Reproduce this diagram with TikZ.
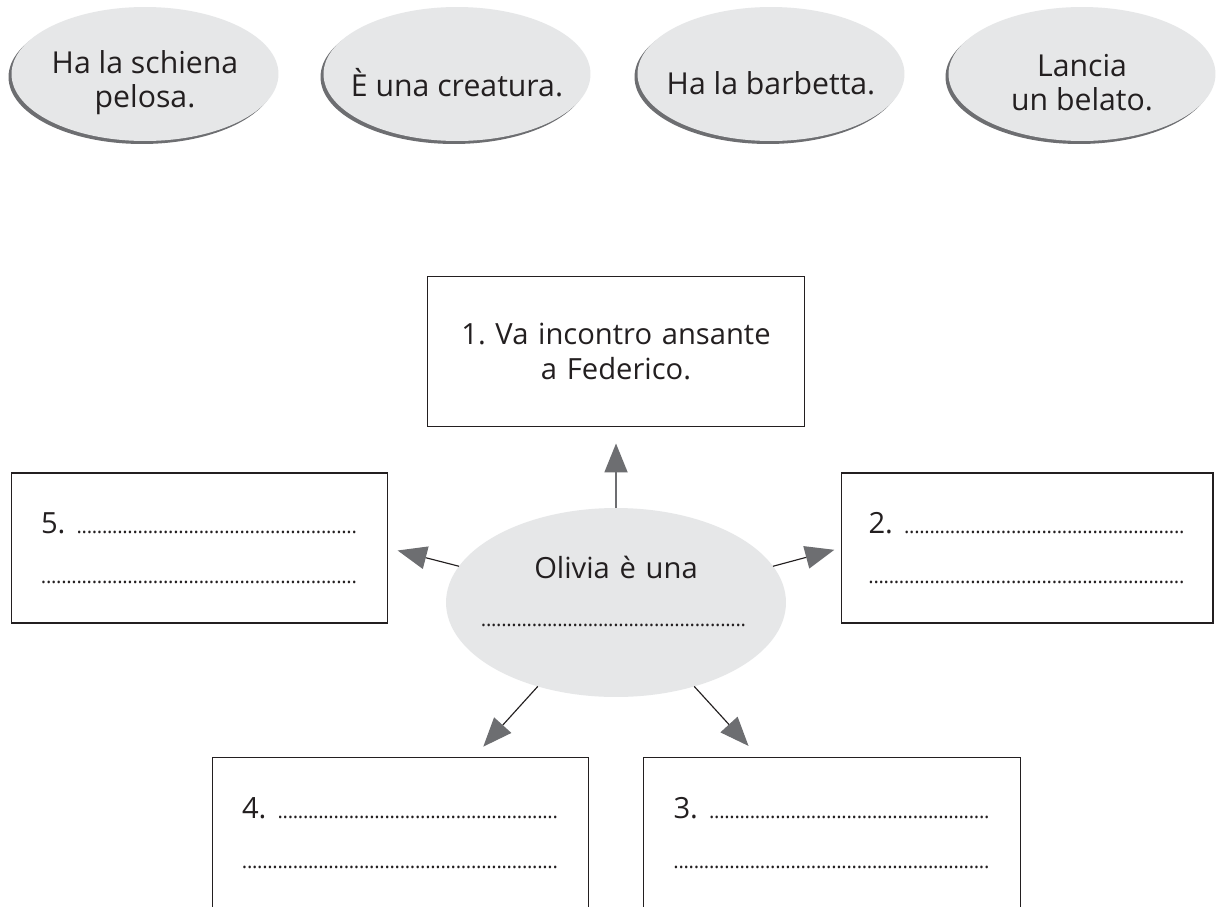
\documentclass[tikz,border=0pt]{standalone}
\usepackage{fontspec}
\setmainfont{Open Sans}
\frenchspacing
\usetikzlibrary{shapes.geometric,arrows.meta,shadows}
\definecolor{coloresfondo}{HTML}{E6E7E8}
\definecolor{coloreombra}{HTML}{6D6E71}
\definecolor{colorefreccia}{HTML}{6D6E71}
\definecolor{coloretesto}{HTML}{231F20}
\definecolor{colorebordo}{HTML}{231F20}
\newcommand{\riga}{\leavevmode\leaders\hbox to 2.9pt{\hss\fontsize{11.5}{11.5}\selectfont.\hss}\hfill\null}
\newcommand{\bolla}[3]{\node[nuvola](#1) at (#2) {}; \node[testonuvola](#1tx) at ([yshift=-0.18cm]#1.center) {#3};}
\newcommand{\freccia}[3]{\draw[freccia, shorten >=#3] (#1) -- (#2);}
\tikzset{
		basico/.style={text=coloretesto, inner sep=0pt, outer sep=0pt},
		nuvola/.style={basico, ellipse, fill=coloresfondo, minimum width=5.34cm, minimum height=2.68cm, drop shadow={shadow xshift=-0.06cm, shadow yshift=-0.06cm, opacity=1, fill=coloreombra}},
		testonuvola/.style={basico, align=center, font=\fontsize{17.2}{19.3}\selectfont},
		centro/.style={basico, ellipse, fill=coloresfondo, minimum width=6.8cm, minimum height=3.78cm},
		testocentro/.style={basico, align=center, text width=5.4cm, font=\fontsize{16.6}{27.8}\selectfont},
		casella/.style={basico, draw=colorebordo, line width=0.6pt, minimum width=7.54cm, minimum height=3cm, inner xsep=0.6cm, text width=6.34cm, align=left, font=\fontsize{16.6}{28.3}\selectfont},
		freccia/.style={-{Triangle[length=0.58cm, width=0.46cm, color=colorefreccia]}, line width=0.65pt, draw=coloretesto}
	}
\begin{document}
\begin{tikzpicture}[x=0.02cm, y=-0.02cm]
		\path[use as bounding box, fill=white] (0,0) rectangle (1216,906);
		% nuvolette in alto
		\bolla{schipelo}{145,74}{Ha la schiena\\pelosa.}
		\bolla{creatura}{457,74}{È una creatura.}
		\bolla{barbetta}{771,74}{Ha la barbetta.}
		\bolla{lancbela}{1082,74}{Lancia\\un belato.}
		
		% caselle
		\node[casella, align=center, text width=7.3cm, inner xsep=0.12cm, font=\fontsize{16.6}{19.5}\selectfont](vaincont) at (616,351.5) {1. Va incontro ansante\\a Federico.};
		\node[casella](rigacinq) at (199.5,548) {5. \riga\\\riga};
		\node[casella, minimum width=7.44cm, inner xsep=0.55cm](rigadue) at (1027,548) {2. \riga\\\riga};
		\node[casella, minimum height=3.04cm](rigaquat) at (400.5,833) {4. \riga\\\riga};
		\node[casella, minimum height=3.04cm](rigatre) at (832,833) {3. \riga\\\riga};
		
		% centro
		\node[centro](oliviaun) at (616,602.5) {};
		\node[testocentro](oliviatx) at ([yshift=0.22cm]oliviaun.center) {Olivia è una\\\riga};
		
		% frecce
		\draw[freccia, line width=1.1pt, draw=colorefreccia, shorten >=0.34cm] (oliviaun.north) -- (vaincont.south);
		\freccia{oliviaun.13}{rigadue.west}{0.14cm}
		\freccia{oliviaun.167}{rigacinq.east}{0.2cm}
		\freccia{oliviaun.227}{rigaquat.46}{0.28cm}
		\freccia{oliviaun.313}{rigatre.134}{0.3cm}
	\end{tikzpicture}
\end{document}
